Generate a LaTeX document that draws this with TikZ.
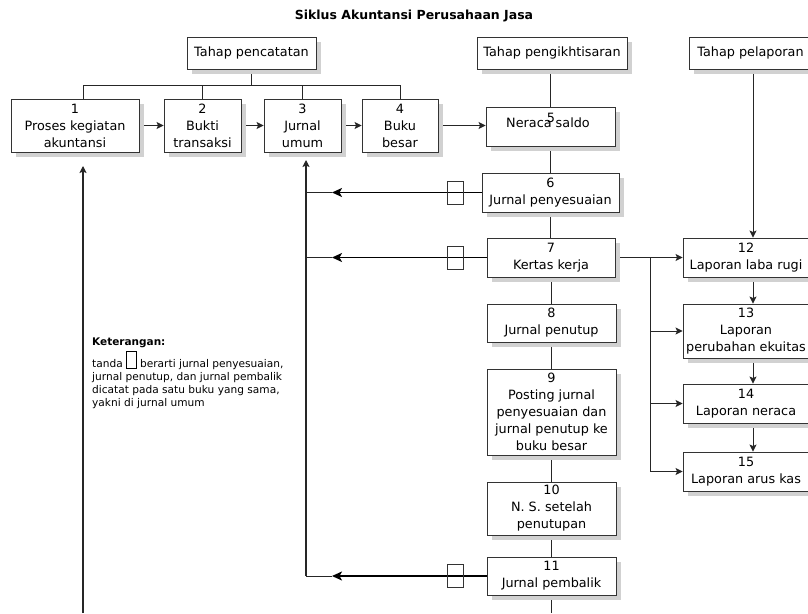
\documentclass[tikz,border=0pt]{standalone}
\usepackage{fontspec}
\setmainfont{DejaVu Sans}
\usetikzlibrary{shadows,arrows.meta,calc,backgrounds}
\newcommand{\legsq}{{\setlength{\fboxsep}{0pt}\setlength{\fboxrule}{0.8pt}\fbox{\rule{0pt}{16pt}\hspace{9pt}}}}
\begin{document}
\begin{tikzpicture}[x=1pt,y=-1pt,
  box/.style={draw=black!80, line width=0.9pt, fill=white, inner sep=0pt, align=center,
    font=\fontsize{12.8}{17}\selectfont,
    drop shadow={shadow xshift=5pt,shadow yshift=-5pt,fill=black!18,opacity=1}},
  tx/.style={inner sep=0pt, font=\fontsize{12.8}{17}\selectfont},
  ln/.style={draw=black!85,line width=0.9pt},
  arr/.style={ln,-{Stealth[length=7pt,width=7pt,inset=1.5pt]}},
  ret/.style={draw=black, line width=1.8pt, -{Stealth[length=10pt,width=9pt,inset=2.5pt]}},
  sq/.style={draw=black!80,line width=0.9pt,minimum width=16pt,minimum height=23pt,inner sep=0pt}
]
\useasboundingbox (0,0) rectangle (808,613);
\clip (0,0) rectangle (808,613);

\node[font=\bfseries\fontsize{12.5}{15}\selectfont] (title) at (414,16) {Siklus Akuntansi Perusahaan Jasa};

% stage headers
\node[box,minimum width=129pt,minimum height=32pt] (tp1) at (251.5,53) {Tahap pencatatan};
\node[box,minimum width=150pt,minimum height=32pt] (tp2) at (552,53) {Tahap pengikhtisaran};
\node[box,minimum width=123pt,minimum height=32pt] (tp3) at (750.5,53) {Tahap pelaporan};

% recording row
\node[box,minimum width=128pt,minimum height=53pt] (b1) at (75,125.5) {1\\Proses kegiatan\\akuntansi};
\node[box,minimum width=77pt,minimum height=53pt] (b2) at (202.5,125.5) {2\\Bukti\\transaksi};
\node[box,minimum width=77pt,minimum height=53pt] (b3) at (302.5,125.5) {3\\Jurnal\\umum};
\node[box,minimum width=76pt,minimum height=53pt] (b4) at (400,125.5) {4\\Buku\\besar};

% summarising column
\node[box,minimum width=129pt,minimum height=39pt] (b5) at (550.5,126.5) {};
\node[tx] (b5t) at (548,122.5) {Neraca saldo};
\node[tx] (b5n) at (551,118) {5};
\node[box,minimum width=137pt,minimum height=39pt] (b6) at (550.5,192.5) {6\\Jurnal penyesuaian};
\node[box,minimum width=128pt,minimum height=39pt] (b7) at (551,257.5) {7\\Kertas kerja};
\node[box,minimum width=129pt,minimum height=38pt] (b8) at (551.5,323) {8\\Jurnal penutup};
\node[box,minimum width=129pt,minimum height=86pt] (b9) at (551.5,412) {9\\Posting jurnal\\penyesuaian dan\\jurnal penutup ke\\buku besar};
\node[box,minimum width=129pt,minimum height=53pt] (b10) at (551.5,508.5) {10\\N. S. setelah\\penutupan};
\node[box,minimum width=129pt,minimum height=38pt] (b11) at (551.5,576) {11\\Jurnal pembalik};

% reporting column
\node[box,minimum width=126pt,minimum height=39pt] (b12) at (746,257.5) {12\\Laporan laba rugi};
\node[box,minimum width=126pt,minimum height=54pt] (b13) at (746,331) {13\\Laporan\\perubahan ekuitas};
\node[box,minimum width=126pt,minimum height=39pt] (b14) at (746,403.5) {14\\Laporan neraca};
\node[box,minimum width=126pt,minimum height=39pt] (b15) at (746,471.5) {15\\Laporan arus kas};

% legend
\node[font=\bfseries\fontsize{10.5}{13}\selectfont, anchor=base west, inner sep=0pt] (ket) at (92,345) {Keterangan:};
\node[font=\fontsize{10.6}{13}\selectfont, anchor=north west, align=left, inner sep=0pt] (leg) at (92,350.5)
  {tanda \legsq{} berarti jurnal penyesuaian,\\jurnal penutup, dan jurnal pembalik\\dicatat pada satu buku yang sama,\\yakni di jurnal umum};

% helper coordinates
\coordinate (hL) at (83,85);
\coordinate (hR) at (400,85);
\coordinate (bot) at (0,613);
\coordinate (cR) at (753,0);
\coordinate (br) at (650,257.5);
\coordinate (cA) at (332,0);
\coordinate (cV) at (306,0);
\coordinate (t3) at (306,160);
\coordinate (t1) at (83,166);

\begin{scope}[on background layer]
  % header tree
  \draw[ln] (tp1.south) -- (tp1.south |- hL);
  \draw[ln] (hL) -- (hR);
  \draw[ln] (hL) -- (hL |- b1.north);
  \draw[ln] (b2.north |- hL) -- (b2.north);
  \draw[ln] (b3.north |- hL) -- (b3.north);
  \draw[ln] (hR) -- (b4.north);
  % flow arrows
  \draw[arr] (b1.east) -- (b2.west);
  \draw[arr] (b2.east) -- (b3.west);
  \draw[arr] (b3.east) -- (b4.west);
  \draw[arr] (b4.east) -- (b4.east -| b5.west);
  % summarising column
  \draw[ln] (tp2.south -| b5.north) -- (b5.north);
  \draw[ln] (b5.south) -- (b5.south |- b6.north);
  \draw[ln] (b6.south) -- (b6.south |- b7.north);
  \draw[ln] (b7.south) -- (b7.south |- b8.north);
  \draw[ln] (b8.south) -- (b8.south |- b9.north);
  \draw[ln] (b9.south) -- (b9.south |- b10.north);
  \draw[ln] (b10.south) -- (b10.south |- b11.north);
  \draw[ln] (b11.south) -- (b11.south |- bot);
  % reporting column
  \draw[arr] (tp3.south -| cR) -- (b12.north -| cR);
  \draw[arr] (b12.south -| cR) -- (b13.north -| cR);
  \draw[arr] (b13.south -| cR) -- (b14.north -| cR);
  \draw[arr] (b14.south -| cR) -- (b15.north -| cR);
  \draw[arr] (b7.east) -- (b7.east -| b12.west);
  \draw[arr] (br) |- (b15.west);
  \draw[arr] (br |- b13.west) -- (b13.west);
  \draw[arr] (br |- b14.west) -- (b14.west);
  % return lines to jurnal umum
  \draw[ret] (b6.west) -- (b6.west -| cA);
  \draw[ln] (b6.west -| cA) -- (b6.west -| cV);
  \draw[ret] (b7.west) -- (b7.west -| cA);
  \draw[ln] (b7.west -| cA) -- (b7.west -| cV);
  \draw[ret] (b11.west) -- (b11.west -| cA);
  \draw[ln] (b11.west -| cA) -- (b11.west -| cV);
  \draw[arr,line width=1.1pt] (b11.west -| cV) -- (t3);
  \draw[arr,line width=1.1pt] (t1 |- bot) -- (t1);
\end{scope}

% marks on return lines
\node[sq] (s6) at (455,192.5) {};
\node[sq] (s7) at (455,257.5) {};
\node[sq] (s11) at (455,576) {};
\end{tikzpicture}
\end{document}
